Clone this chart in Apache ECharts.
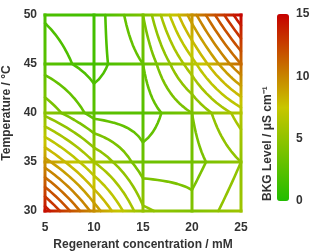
<!DOCTYPE html>
<html><head><meta charset="utf-8">
<script src="https://cdn.jsdelivr.net/npm/echarts@6/dist/echarts.min.js"></script>
<style>html,body{margin:0;padding:0;background:#fff}#c{width:310px;height:251px}</style>
</head><body><div id="c"></div>
<script>
// Regenerant concentration (mM) and temperature (°C) grid nodes
const concentrations = [5, 10, 15, 20, 25];
const temperatures = [30, 35, 40, 45, 50];
// BKG level (µS/cm) at each node, one array per temperature row
const bkgAt30 = [14.5, 9.6, 5.2, 4.3, 5.6];
const bkgAt35 = [9.4, 6.0, 3.4, 3.6, 5.0];
const bkgAt40 = [4.7, 2.6, 2.4, 4.0, 6.5];
const bkgAt45 = [2.5, 1.6, 3.0, 6.6, 11.0];
const bkgAt50 = [1.9, 1.4, 4.0, 9.5, 14.8];
const contourLevels = [1,2,3,4,5,6,7,8,9,10,11,12,13,14];
const colorTicks = [0, 5, 10, 15];
const bkgColors = ['#22bd00', '#c8c600', '#c60000'];

const rows = [bkgAt30, bkgAt35, bkgAt40, bkgAt45, bkgAt50];
const X0 = concentrations[0], X1 = concentrations[concentrations.length-1];
const Y0 = temperatures[0], Y1 = temperatures[temperatures.length-1];
const VMIN = colorTicks[0], VMAX = colorTicks[colorTicks.length-1];

function cellIndex(arr, v){
  let i = 0;
  while (i < arr.length-2 && v > arr[i+1]) i++;
  return i;
}
function bil(x, y){
  const i = cellIndex(concentrations, x), j = cellIndex(temperatures, y);
  const u = (x - concentrations[i])/(concentrations[i+1]-concentrations[i]);
  const v = (y - temperatures[j])/(temperatures[j+1]-temperatures[j]);
  const a = rows[j][i], b = rows[j][i+1], c = rows[j+1][i+1], d = rows[j+1][i];
  return a*(1-u)*(1-v) + b*u*(1-v) + c*u*v + d*(1-u)*v;
}
function hexRgb(h){ return [1,3,5].map(k => parseInt(h.substr(k,2),16)); }
const rgbStops = bkgColors.map(hexRgb);
function colorFor(val){
  let t = (val - VMIN)/(VMAX - VMIN);
  t = Math.max(0, Math.min(1, t)) * (rgbStops.length-1);
  const k = Math.min(rgbStops.length-2, Math.floor(t)), f = t - k;
  const c = rgbStops[k].map((ch, n) => Math.round(ch + (rgbStops[k+1][n]-ch)*f));
  return 'rgb(' + c.join(',') + ')';
}

// contour segments via marching squares on the bilinear surface
const S = 40;
const dx = (X1-X0)/S, dy = (Y1-Y0)/S;
function lerp(p, q, va, vb, L){
  const t = (L - va)/(vb - va);
  return [p[0] + (q[0]-p[0])*t, p[1] + (q[1]-p[1])*t];
}
const segsByLevel = contourLevels.map(() => []);
for (let jy = 0; jy < S; jy++){
  for (let ix = 0; ix < S; ix++){
    const x0 = X0 + ix*dx, x1 = X0 + (ix+1)*dx, y0 = Y0 + jy*dy, y1 = Y0 + (jy+1)*dy;
    const P = [[x0,y0],[x1,y0],[x1,y1],[x0,y1]];
    const V = P.map(p => bil(p[0], p[1]));
    const center = bil((x0+x1)/2, (y0+y1)/2);
    contourLevels.forEach((L, li) => {
      const s = V.map(v => v >= L);
      const pts = [];
      for (let e = 0; e < 4; e++){
        const a = e, b = (e+1)%4;
        pts.push(s[a] !== s[b] ? lerp(P[a], P[b], V[a], V[b], L) : null);
      }
      const cnt = pts.filter(p => p).length;
      const add = (p, q) => segsByLevel[li].push([p, q]);
      if (cnt === 2){
        const f = pts.filter(p => p);
        add(f[0], f[1]);
      } else if (cnt === 4){
        if ((center >= L) === s[0]){ add(pts[0], pts[1]); add(pts[2], pts[3]); }
        else { add(pts[3], pts[0]); add(pts[1], pts[2]); }
      }
    });
  }
}
function chain(segs){
  const key = p => p[0].toFixed(4) + ',' + p[1].toFixed(4);
  const map = new Map();
  segs.forEach((s, i) => [0,1].forEach(k => {
    const kk = key(s[k]);
    if (!map.has(kk)) map.set(kk, []);
    map.get(kk).push(i);
  }));
  const used = new Array(segs.length).fill(false);
  const polys = [];
  for (let i = 0; i < segs.length; i++){
    if (used[i]) continue;
    used[i] = true;
    const line = [segs[i][0], segs[i][1]];
    for (const dir of [1, -1]){
      while (true){
        const end = dir === 1 ? line[line.length-1] : line[0];
        const cands = (map.get(key(end)) || []).filter(j => !used[j]);
        if (!cands.length) break;
        const j = cands[0]; used[j] = true;
        const s = segs[j];
        const next = key(s[0]) === key(end) ? s[1] : s[0];
        if (dir === 1) line.push(next); else line.unshift(next);
      }
    }
    polys.push(line);
  }
  return polys;
}
const contourPolys = [];
const contourItems = [];
contourLevels.forEach((L, li) => {
  chain(segsByLevel[li]).forEach(poly => {
    contourItems.push([poly[0][0], poly[0][1], L, contourPolys.length]);
    contourPolys.push(poly);
  });
});

// mesh lines along the grid nodes
const meshItems = [];
concentrations.forEach(xv => meshItems.push([xv, Y0, xv, Y1]));
temperatures.forEach(yv => meshItems.push([X0, yv, X1, yv]));

const FONT = 'Liberation Sans, Arial, sans-serif';
const chart = echarts.init(document.getElementById('c'));
chart.setOption({
  animation: false,
  backgroundColor: '#fff',
  grid: [
    {left: 45, top: 15, width: 196, height: 196, containLabel:false, outerBoundsMode:'none'},
    {left: 277, top: 14, width: 12, height: 187, containLabel:false, outerBoundsMode:'none'}
  ],
  xAxis: [
    {type:'value', gridIndex:0, min:5, max:25, interval:5,
     name:'Regenerant concentration / mM', nameLocation:'middle', nameGap:27,
     nameTextStyle:{fontFamily:FONT, fontWeight:'bold', fontSize:12, color:'#333'},
     axisLine:{show:false}, axisTick:{show:false}, splitLine:{show:false},
     axisLabel:{margin:11, fontFamily:FONT, fontWeight:'bold', fontSize:12, color:'#333'}},
    {type:'value', gridIndex:1, show:false, min:0, max:1}
  ],
  yAxis: [
    {type:'value', gridIndex:0, min:30, max:50, interval:5,
     name:'Temperature / °C', nameLocation:'middle', nameGap:26,
     nameTextStyle:{fontFamily:FONT, fontWeight:'bold', fontSize:12, color:'#333'},
     axisLine:{show:false}, axisTick:{show:false}, splitLine:{show:false},
     axisLabel:{margin:8, fontFamily:FONT, fontWeight:'bold', fontSize:12, color:'#333'}},
    {type:'value', gridIndex:1, min:VMIN, max:VMAX, interval:5, position:'right',
     axisLine:{show:false}, axisTick:{show:false}, splitLine:{show:false},
     axisLabel:{margin:7, fontFamily:FONT, fontWeight:'bold', fontSize:12, color:'#333'}}
  ],
  visualMap: {
    type:'continuous', min:VMIN, max:VMAX, dimension:2, seriesIndex:[1],
    left:277, top:14, itemWidth:12, itemHeight:187, padding:0,
    calculable:false, hoverLink:false, text:null,
    inRange:{color:bkgColors}
  },
  graphic: [{
    type:'text', x:268, y:201, rotation:Math.PI/2,
    style:{text:'BKG Level / μS cm⁻¹', fill:'#333', font:'bold 12px ' + FONT,
           align:'left', verticalAlign:'middle'}
  }],
  series: [
    {type:'custom', xAxisIndex:0, yAxisIndex:0, clip:false, silent:true,
     dimensions:['x1','y1','x2','y2'], encode:{x:[0,2], y:[1,3]}, data: meshItems,
     renderItem: function(params, api){
       const a = [api.value(0), api.value(1)], b = [api.value(2), api.value(3)];
       const p1 = api.coord(a), p2 = api.coord(b);
       const stops = [];
       const N = 40;
       for (let k = 0; k <= N; k++){
         const t = k/N;
         stops.push({offset:t, color: colorFor(bil(a[0] + (b[0]-a[0])*t, a[1] + (b[1]-a[1])*t))});
       }
       return {type:'line', shape:{x1:p1[0], y1:p1[1], x2:p2[0], y2:p2[1]},
         style:{stroke: new echarts.graphic.LinearGradient(p1[0], p1[1], p2[0], p2[1], stops, true),
                lineWidth: 3, lineCap:'square'}};
     }},
    {type:'custom', xAxisIndex:0, yAxisIndex:0, clip:false, silent:true,
     dimensions:['x','y','v','idx'], encode:{x:0, y:1}, data: contourItems,
     renderItem: function(params, api){
       const pts = contourPolys[api.value(3)].map(p => api.coord(p));
       return {type:'polyline', shape:{points: pts},
         style:{stroke: api.visual('color'), fill:null, lineWidth: 2.6, lineJoin:'round', lineCap:'round'}};
     }}
  ]
});
</script></body></html>
